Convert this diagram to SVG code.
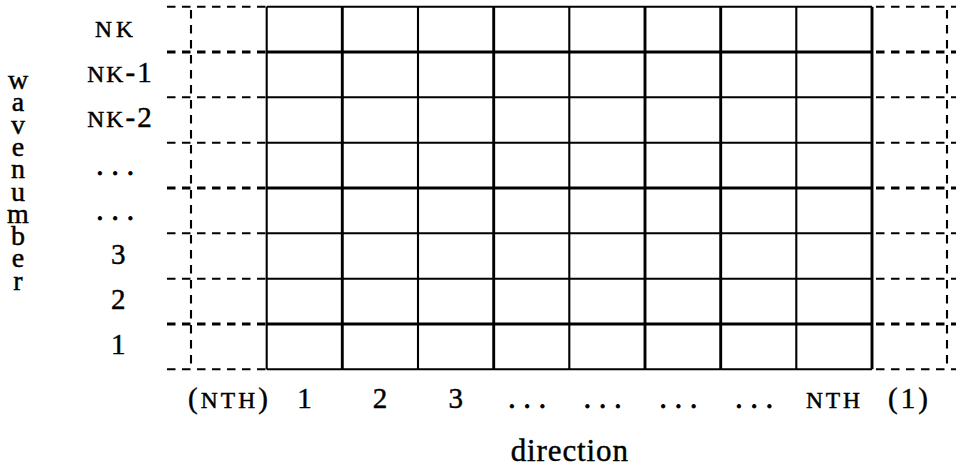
<svg xmlns="http://www.w3.org/2000/svg" width="961" height="468" viewBox="0 0 961 468">
<style>
.g{stroke:#000;stroke-width:2.1;fill:none}
.gt{stroke:#000;stroke-width:2.9;fill:none}
.d{stroke:#000;stroke-width:2.1;fill:none;stroke-dasharray:8.5 6.5}
.dt{stroke:#000;stroke-width:2.9;fill:none;stroke-dasharray:8.5 6.5}
text{font-family:"Liberation Serif","Times New Roman",serif;fill:#000;stroke:#000;stroke-width:0.45}
.n{font-size:29px;text-anchor:middle}
.sc{font-size:23.5px}
.el{font-size:29px;text-anchor:middle;letter-spacing:8px;stroke-width:0.9}
</style>
<rect width="961" height="468" fill="#fff"/>
<g id="dashed">
<line class="d" x1="167" y1="6.7" x2="266.7" y2="6.7"/>
<line class="dt" x1="167" y1="52" x2="266.7" y2="52"/>
<line class="d" x1="167" y1="97.3" x2="266.7" y2="97.3"/>
<line class="d" x1="167" y1="142.7" x2="266.7" y2="142.7"/>
<line class="dt" x1="167" y1="188" x2="266.7" y2="188"/>
<line class="d" x1="167" y1="233.3" x2="266.7" y2="233.3"/>
<line class="d" x1="167" y1="278.7" x2="266.7" y2="278.7"/>
<line class="dt" x1="167" y1="324" x2="266.7" y2="324"/>
<line class="d" x1="167" y1="369.3" x2="266.7" y2="369.3"/>
<line class="d" x1="876" y1="6.7" x2="956" y2="6.7"/>
<line class="dt" x1="876" y1="52" x2="956" y2="52"/>
<line class="d" x1="876" y1="97.3" x2="956" y2="97.3"/>
<line class="d" x1="876" y1="142.7" x2="956" y2="142.7"/>
<line class="dt" x1="876" y1="188" x2="956" y2="188"/>
<line class="d" x1="876" y1="233.3" x2="956" y2="233.3"/>
<line class="d" x1="876" y1="278.7" x2="956" y2="278.7"/>
<line class="dt" x1="876" y1="324" x2="956" y2="324"/>
<line class="d" x1="876" y1="369.3" x2="956" y2="369.3"/>
<line class="d" x1="191" y1="10" x2="191" y2="369.3"/>
<line class="d" x1="947" y1="10" x2="947" y2="369.3"/>
</g>
<g id="grid">
<line class="g" x1="266.7" y1="6.7" x2="872" y2="6.7"/>
<line class="gt" x1="266.7" y1="52" x2="872" y2="52"/>
<line class="g" x1="266.7" y1="97.3" x2="872" y2="97.3"/>
<line class="g" x1="266.7" y1="142.7" x2="872" y2="142.7"/>
<line class="gt" x1="266.7" y1="188" x2="872" y2="188"/>
<line class="g" x1="266.7" y1="233.3" x2="872" y2="233.3"/>
<line class="g" x1="266.7" y1="278.7" x2="872" y2="278.7"/>
<line class="gt" x1="266.7" y1="324" x2="872" y2="324"/>
<line class="g" x1="266.7" y1="369.3" x2="872" y2="369.3"/>
<line class="g" x1="266.7" y1="6.7" x2="266.7" y2="369.3"/>
<line class="gt" x1="342.3" y1="6.7" x2="342.3" y2="369.3"/>
<line class="g" x1="418" y1="6.7" x2="418" y2="369.3"/>
<line class="gt" x1="493.7" y1="6.7" x2="493.7" y2="369.3"/>
<line class="g" x1="569.3" y1="6.7" x2="569.3" y2="369.3"/>
<line class="gt" x1="645" y1="6.7" x2="645" y2="369.3"/>
<line class="gt" x1="720.7" y1="6.7" x2="720.7" y2="369.3"/>
<line class="g" x1="796.3" y1="6.7" x2="796.3" y2="369.3"/>
<line class="gt" x1="872" y1="6.7" x2="872" y2="369.3"/>
</g>
<g id="row-labels">
<text class="sc" x="95" y="36.7" textLength="38" lengthAdjust="spacing">NK</text>
<text x="87.3" y="82" textLength="64.4" lengthAdjust="spacing"><tspan class="sc">NK</tspan><tspan font-size="29">-1</tspan></text>
<text x="87.3" y="127.3" textLength="64.4" lengthAdjust="spacing"><tspan class="sc">NK</tspan><tspan font-size="29">-2</tspan></text>
<text class="el" x="119" y="175">...</text>
<text class="el" x="119" y="220">...</text>
<text class="n" x="118.3" y="263.5">3</text>
<text class="n" x="118.3" y="309">2</text>
<text class="n" x="118.3" y="354.3">1</text>
</g>
<g id="col-labels">
<text x="188" y="408" textLength="80" lengthAdjust="spacing"><tspan font-size="29">(</tspan><tspan class="sc">NTH</tspan><tspan font-size="29">)</tspan></text>
<text class="n" x="304.5" y="408">1</text>
<text class="n" x="380" y="408">2</text>
<text class="n" x="455.7" y="408">3</text>
<text class="el" x="531" y="408">...</text>
<text class="el" x="606.5" y="408">...</text>
<text class="el" x="682.3" y="408">...</text>
<text class="el" x="758" y="408">...</text>
<text class="sc" x="806" y="408" textLength="54" lengthAdjust="spacing">NTH</text>
<text x="888" y="408" font-size="29" textLength="40" lengthAdjust="spacing">(1)</text>
</g>
<g id="axis-labels">
<text x="510.7" y="461" font-size="31" textLength="117.3" lengthAdjust="spacing">direction</text>
<text font-size="28" text-anchor="middle"><tspan x="18" y="89">w</tspan><tspan x="18" y="111.3">a</tspan><tspan x="18" y="133.6">v</tspan><tspan x="18" y="155.9">e</tspan><tspan x="18" y="178.2">n</tspan><tspan x="18" y="200.5">u</tspan><tspan x="18" y="222.8">m</tspan><tspan x="18" y="245.1">b</tspan><tspan x="18" y="267.4">e</tspan><tspan x="18" y="289.7">r</tspan></text>
</g>
</svg>
